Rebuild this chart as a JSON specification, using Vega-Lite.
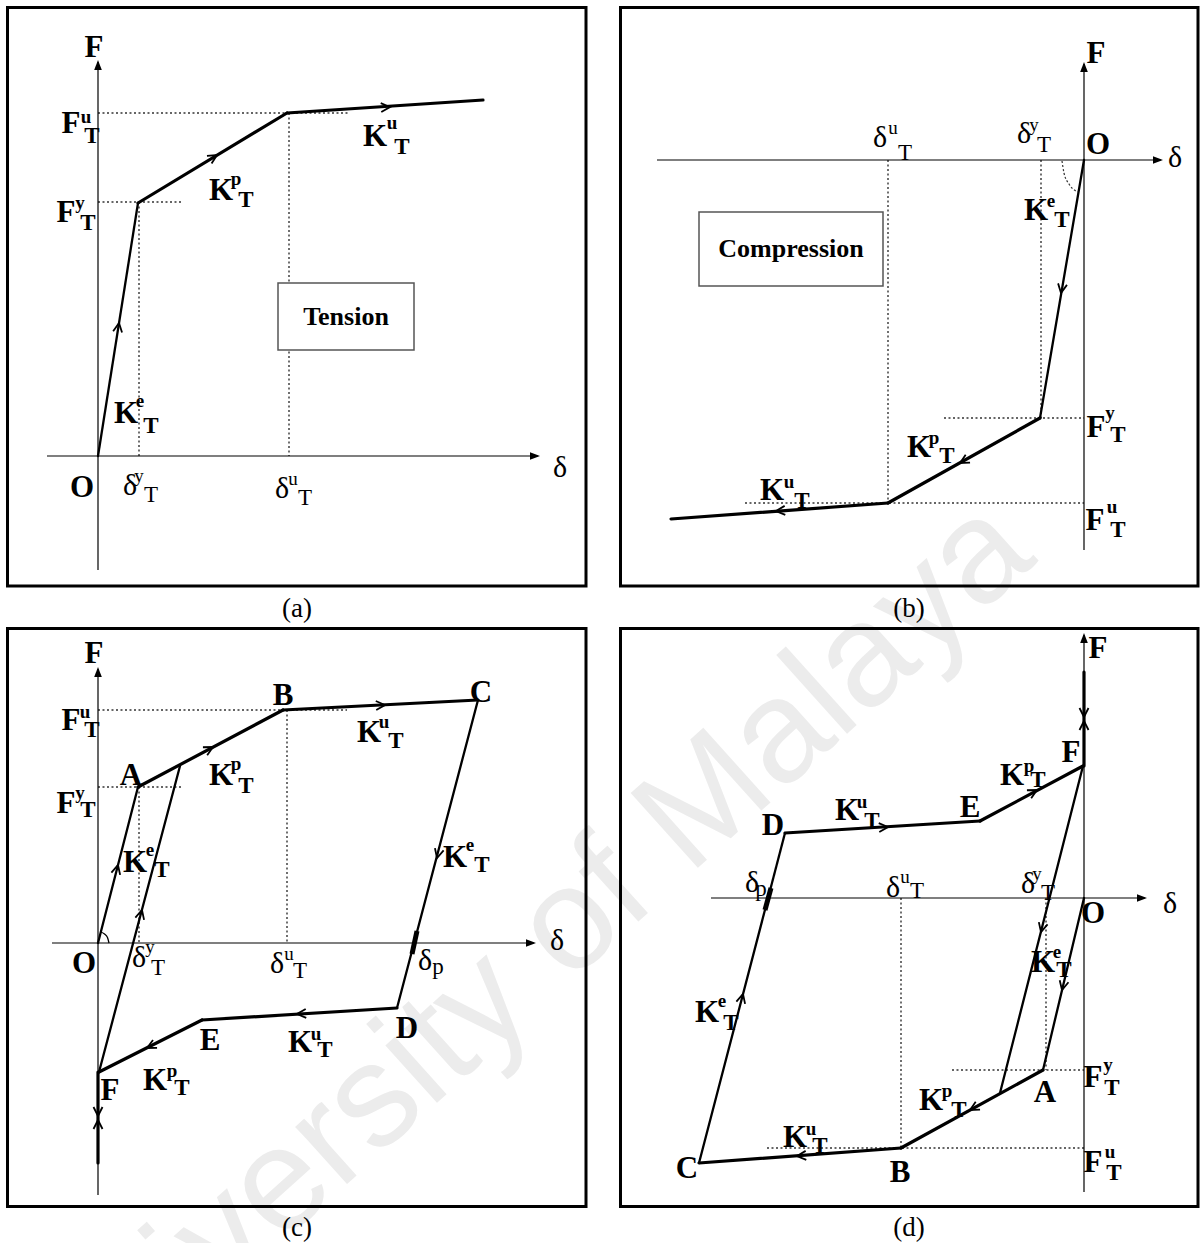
{
  "$schema": "https://vega.github.io/schema/vega-lite/v6.json",
  "width": 1203,
  "height": 1243,
  "autosize": {"type": "none"},
  "padding": 0,
  "background": "white",
  "config": {"view": {"stroke": null}, "text": {"font": "Liberation Serif"}},
  "encoding": {
    "x": {"field": "x", "type": "quantitative", "axis": null, "scale": {"domain": [0, 1203], "nice": false, "zero": false}},
    "y": {"field": "y", "type": "quantitative", "axis": null, "scale": {"domain": [0, 1243], "nice": false, "zero": false, "reverse": true}}
  },
  "datasets": {
    "watermark": [{"x": 521, "y": 968, "t": "University of Malaya"}],
    "frames": [
      {"panel": "a", "x": 7.5, "y": 7.5, "x2": 586, "y2": 586},
      {"panel": "b", "x": 620.5, "y": 7.5, "x2": 1198, "y2": 586},
      {"panel": "c", "x": 7.5, "y": 628.5, "x2": 586, "y2": 1206.5},
      {"panel": "d", "x": 620.5, "y": 628.5, "x2": 1198, "y2": 1206.5}
    ],
    "boxes": [
      {"panel": "a", "x": 278, "y": 283, "x2": 414, "y2": 350},
      {"panel": "b", "x": 699, "y": 212, "x2": 883, "y2": 286}
    ],
    "guides": [
      {"panel": "a", "x": 98, "y": 202, "x2": 183, "y2": 202},
      {"panel": "a", "x": 98, "y": 113, "x2": 350, "y2": 113},
      {"panel": "a", "x": 139, "y": 202, "x2": 139, "y2": 456},
      {"panel": "a", "x": 289, "y": 113, "x2": 289, "y2": 456},
      {"panel": "b", "x": 944, "y": 418, "x2": 1084, "y2": 418},
      {"panel": "b", "x": 745, "y": 503, "x2": 1084, "y2": 503},
      {"panel": "b", "x": 1041, "y": 160, "x2": 1041, "y2": 418},
      {"panel": "b", "x": 888, "y": 160, "x2": 888, "y2": 503},
      {"panel": "c", "x": 98, "y": 710, "x2": 347, "y2": 710},
      {"panel": "c", "x": 98, "y": 787, "x2": 182, "y2": 787},
      {"panel": "c", "x": 139, "y": 787, "x2": 139, "y2": 943},
      {"panel": "c", "x": 287, "y": 710, "x2": 287, "y2": 943},
      {"panel": "d", "x": 952, "y": 1070, "x2": 1084, "y2": 1070},
      {"panel": "d", "x": 767, "y": 1148, "x2": 1084, "y2": 1148},
      {"panel": "d", "x": 901, "y": 898, "x2": 901, "y2": 1148},
      {"panel": "d", "x": 1046, "y": 898, "x2": 1046, "y2": 1070}
    ],
    "axes": [
      {"panel": "a", "x": 98, "y": 62, "x2": 98, "y2": 570},
      {"panel": "a", "x": 47, "y": 456, "x2": 538, "y2": 456},
      {"panel": "b", "x": 657, "y": 160, "x2": 1161, "y2": 160},
      {"panel": "b", "x": 1084, "y": 64, "x2": 1084, "y2": 550},
      {"panel": "c", "x": 98, "y": 669, "x2": 98, "y2": 1195},
      {"panel": "c", "x": 52, "y": 943, "x2": 534, "y2": 943},
      {"panel": "d", "x": 1084, "y": 635, "x2": 1084, "y2": 1192},
      {"panel": "d", "x": 711, "y": 898, "x2": 1145, "y2": 898}
    ],
    "axisTips": [
      {"panel": "a", "x": 98, "y": 60, "heading": -90},
      {"panel": "a", "x": 540, "y": 456, "heading": 0},
      {"panel": "b", "x": 1084, "y": 62, "heading": -90},
      {"panel": "b", "x": 1163, "y": 160, "heading": 0},
      {"panel": "c", "x": 98, "y": 667, "heading": -90},
      {"panel": "c", "x": 536, "y": 943, "heading": 0},
      {"panel": "d", "x": 1084, "y": 633, "heading": -90},
      {"panel": "d", "x": 1147, "y": 898, "heading": 0}
    ],
    "branches": [
      {"panel": "a", "branch": "elastic", "x": 98, "y": 456, "x2": 138, "y2": 203},
      {"panel": "a", "branch": "plastic", "x": 138, "y": 203, "x2": 287, "y2": 113},
      {"panel": "a", "branch": "ultimate", "x": 287, "y": 113, "x2": 483, "y2": 100},
      {"panel": "b", "branch": "elastic", "x": 1084, "y": 160, "x2": 1040, "y2": 418},
      {"panel": "b", "branch": "plastic", "x": 1040, "y": 418, "x2": 888, "y2": 503},
      {"panel": "b", "branch": "ultimate", "x": 888, "y": 503, "x2": 671, "y2": 519},
      {"panel": "c", "branch": "elastic", "x": 98, "y": 943, "x2": 138, "y2": 787},
      {"panel": "c", "branch": "plastic", "x": 138, "y": 787, "x2": 283, "y2": 710},
      {"panel": "c", "branch": "ultimate", "x": 283, "y": 710, "x2": 478, "y2": 700},
      {"panel": "c", "branch": "elastic", "x": 478, "y": 700, "x2": 397, "y2": 1008},
      {"panel": "c", "branch": "ultimate", "x": 397, "y": 1008, "x2": 202, "y2": 1020},
      {"panel": "c", "branch": "plastic", "x": 202, "y": 1020, "x2": 99, "y2": 1072},
      {"panel": "c", "branch": "elastic", "x": 99, "y": 1072, "x2": 180, "y2": 766},
      {"panel": "c", "branch": "slack", "x": 98, "y": 1072, "x2": 98, "y2": 1163},
      {"panel": "d", "branch": "elastic", "x": 1084, "y": 898, "x2": 1043, "y2": 1070},
      {"panel": "d", "branch": "plastic", "x": 1043, "y": 1070, "x2": 901, "y2": 1148},
      {"panel": "d", "branch": "ultimate", "x": 901, "y": 1148, "x2": 699, "y2": 1163},
      {"panel": "d", "branch": "elastic", "x": 699, "y": 1163, "x2": 785, "y2": 833},
      {"panel": "d", "branch": "ultimate", "x": 785, "y": 833, "x2": 980, "y2": 821},
      {"panel": "d", "branch": "plastic", "x": 980, "y": 821, "x2": 1083, "y2": 766},
      {"panel": "d", "branch": "elastic", "x": 1083, "y": 766, "x2": 1000, "y2": 1093},
      {"panel": "d", "branch": "slack", "x": 1084, "y": 766, "x2": 1084, "y2": 672}
    ],
    "residual": [
      {"panel": "c", "x": 417, "y": 931, "x2": 412, "y2": 954},
      {"panel": "d", "x": 771, "y": 888, "x2": 765, "y2": 910}
    ],
    "arcs": [
      {"arc": "b", "i": 0, "x": 1062, "y": 161},
      {"arc": "b", "i": 1, "x": 1064, "y": 173},
      {"arc": "b", "i": 2, "x": 1069, "y": 184},
      {"arc": "b", "i": 3, "x": 1078, "y": 192},
      {"arc": "c", "i": 0, "x": 100.5, "y": 932},
      {"arc": "c", "i": 1, "x": 104.5, "y": 934},
      {"arc": "c", "i": 2, "x": 107.5, "y": 937.5},
      {"arc": "c", "i": 3, "x": 109, "y": 943}
    ],
    "flow": [
      {"panel": "a", "x": 119, "y": 323, "heading": -81},
      {"panel": "a", "x": 217, "y": 155, "heading": -31},
      {"panel": "a", "x": 390, "y": 107, "heading": -3.5},
      {"panel": "b", "x": 1061, "y": 293, "heading": 99.7},
      {"panel": "b", "x": 960, "y": 463, "heading": 150.8},
      {"panel": "b", "x": 776, "y": 511, "heading": 175.8},
      {"panel": "c", "x": 118, "y": 865, "heading": -75.6},
      {"panel": "c", "x": 142, "y": 910, "heading": -75.2},
      {"panel": "c", "x": 213, "y": 747, "heading": -28},
      {"panel": "c", "x": 385, "y": 705, "heading": -2.9},
      {"panel": "c", "x": 437, "y": 858, "heading": 104.7},
      {"panel": "c", "x": 297, "y": 1014, "heading": 176.5},
      {"panel": "c", "x": 147, "y": 1048, "heading": 153.2},
      {"panel": "c", "x": 98, "y": 1116, "heading": 90},
      {"panel": "c", "x": 98, "y": 1120, "heading": -90},
      {"panel": "d", "x": 1062, "y": 990, "heading": 103.4},
      {"panel": "d", "x": 1041, "y": 932, "heading": 104.2},
      {"panel": "d", "x": 970, "y": 1110, "heading": 151.2},
      {"panel": "d", "x": 797, "y": 1156, "heading": 175.8},
      {"panel": "d", "x": 743, "y": 994, "heading": -75.4},
      {"panel": "d", "x": 888, "y": 827, "heading": -3.5},
      {"panel": "d", "x": 1037, "y": 790, "heading": -28.1},
      {"panel": "d", "x": 1084, "y": 717, "heading": 90},
      {"panel": "d", "x": 1084, "y": 721, "heading": -90}
    ],
    "labels": [
      {"label": "F", "part": "main", "t": "F", "x": 94, "y": 57},
      {"label": "F^u_T", "part": "main", "t": "F", "x": 71, "y": 133},
      {"label": "F^u_T", "part": "sup", "t": "u", "x": 86, "y": 123},
      {"label": "F^u_T", "part": "sub", "t": "T", "x": 92, "y": 143},
      {"label": "F^y_T", "part": "main", "t": "F", "x": 66, "y": 222},
      {"label": "F^y_T", "part": "sup", "t": "y", "x": 80, "y": 209},
      {"label": "F^y_T", "part": "sub", "t": "T", "x": 88, "y": 230},
      {"label": "K^p_T", "part": "main", "t": "K", "x": 221, "y": 200},
      {"label": "K^p_T", "part": "sup", "t": "p", "x": 236, "y": 185},
      {"label": "K^p_T", "part": "sub", "t": "T", "x": 246, "y": 207},
      {"label": "K^u_T", "part": "main", "t": "K", "x": 375, "y": 146},
      {"label": "K^u_T", "part": "sup", "t": "u", "x": 392, "y": 129},
      {"label": "K^u_T", "part": "sub", "t": "T", "x": 402, "y": 154},
      {"label": "K^e_T", "part": "main", "t": "K", "x": 126, "y": 423},
      {"label": "K^e_T", "part": "sup", "t": "e", "x": 140, "y": 407},
      {"label": "K^e_T", "part": "sub", "t": "T", "x": 151, "y": 433},
      {"label": "O", "part": "main", "t": "O", "x": 82, "y": 497},
      {"label": "δ^y_T", "part": "main", "t": "δ", "x": 130, "y": 495},
      {"label": "δ^y_T", "part": "sup", "t": "y", "x": 139, "y": 482},
      {"label": "δ^y_T", "part": "sub", "t": "T", "x": 151, "y": 502},
      {"label": "δ^u_T", "part": "main", "t": "δ", "x": 282, "y": 498},
      {"label": "δ^u_T", "part": "sup", "t": "u", "x": 293, "y": 485},
      {"label": "δ^u_T", "part": "sub", "t": "T", "x": 305, "y": 505},
      {"label": "δ", "part": "main", "t": "δ", "x": 560, "y": 477},

      {"label": "F", "part": "main", "t": "F", "x": 1096, "y": 63},
      {"label": "O", "part": "main", "t": "O", "x": 1098, "y": 154},
      {"label": "δ", "part": "main", "t": "δ", "x": 1175, "y": 167},
      {"label": "δ^y_T", "part": "main", "t": "δ", "x": 1024, "y": 143},
      {"label": "δ^y_T", "part": "sup", "t": "y", "x": 1034, "y": 131},
      {"label": "δ^y_T", "part": "sub", "t": "T", "x": 1044, "y": 152},
      {"label": "δ^u_T", "part": "main", "t": "δ", "x": 880, "y": 147},
      {"label": "δ^u_T", "part": "sup", "t": "u", "x": 893, "y": 134},
      {"label": "δ^u_T", "part": "sub", "t": "T", "x": 905, "y": 160},
      {"label": "F^y_T", "part": "main", "t": "F", "x": 1096, "y": 437},
      {"label": "F^y_T", "part": "sup", "t": "y", "x": 1110, "y": 419},
      {"label": "F^y_T", "part": "sub", "t": "T", "x": 1118, "y": 442},
      {"label": "F^u_T", "part": "main", "t": "F", "x": 1095, "y": 530},
      {"label": "F^u_T", "part": "sup", "t": "u", "x": 1112, "y": 513},
      {"label": "F^u_T", "part": "sub", "t": "T", "x": 1118, "y": 537},
      {"label": "K^p_T", "part": "main", "t": "K", "x": 919, "y": 457},
      {"label": "K^p_T", "part": "sup", "t": "p", "x": 934, "y": 444},
      {"label": "K^p_T", "part": "sub", "t": "T", "x": 947, "y": 463},
      {"label": "K^u_T", "part": "main", "t": "K", "x": 772, "y": 500},
      {"label": "K^u_T", "part": "sup", "t": "u", "x": 789, "y": 488},
      {"label": "K^u_T", "part": "sub", "t": "T", "x": 802, "y": 508},
      {"label": "K^e_T", "part": "main", "t": "K", "x": 1036, "y": 220},
      {"label": "K^e_T", "part": "sup", "t": "e", "x": 1051, "y": 207},
      {"label": "K^e_T", "part": "sub", "t": "T", "x": 1062, "y": 227},

      {"label": "F", "part": "main", "t": "F", "x": 94, "y": 663},
      {"label": "F^u_T", "part": "main", "t": "F", "x": 71, "y": 730},
      {"label": "F^u_T", "part": "sup", "t": "u", "x": 85, "y": 718},
      {"label": "F^u_T", "part": "sub", "t": "T", "x": 92, "y": 737},
      {"label": "F^y_T", "part": "main", "t": "F", "x": 66, "y": 813},
      {"label": "F^y_T", "part": "sup", "t": "y", "x": 80, "y": 799},
      {"label": "F^y_T", "part": "sub", "t": "T", "x": 88, "y": 817},
      {"label": "A", "part": "main", "t": "A", "x": 131, "y": 785},
      {"label": "B", "part": "main", "t": "B", "x": 283, "y": 705},
      {"label": "C", "part": "main", "t": "C", "x": 481, "y": 702},
      {"label": "K^p_T", "part": "main", "t": "K", "x": 221, "y": 785},
      {"label": "K^p_T", "part": "sup", "t": "p", "x": 236, "y": 770},
      {"label": "K^p_T", "part": "sub", "t": "T", "x": 246, "y": 793},
      {"label": "K^e_T", "part": "main", "t": "K", "x": 135, "y": 872},
      {"label": "K^e_T", "part": "sup", "t": "e", "x": 150, "y": 856},
      {"label": "K^e_T", "part": "sub", "t": "T", "x": 162, "y": 877},
      {"label": "K^u_T", "part": "main", "t": "K", "x": 369, "y": 742},
      {"label": "K^u_T", "part": "sup", "t": "u", "x": 384, "y": 728},
      {"label": "K^u_T", "part": "sub", "t": "T", "x": 396, "y": 748},
      {"label": "K^e_T", "part": "main", "t": "K", "x": 455, "y": 867},
      {"label": "K^e_T", "part": "sup", "t": "e", "x": 470, "y": 851},
      {"label": "K^e_T", "part": "sub", "t": "T", "x": 482, "y": 872},
      {"label": "O", "part": "main", "t": "O", "x": 84, "y": 973},
      {"label": "δ^y_T", "part": "main", "t": "δ", "x": 139, "y": 967},
      {"label": "δ^y_T", "part": "sup", "t": "y", "x": 150, "y": 953},
      {"label": "δ^y_T", "part": "sub", "t": "T", "x": 158, "y": 975},
      {"label": "δ^u_T", "part": "main", "t": "δ", "x": 277, "y": 973},
      {"label": "δ^u_T", "part": "sup", "t": "u", "x": 289, "y": 960},
      {"label": "δ^u_T", "part": "sub", "t": "T", "x": 300, "y": 978},
      {"label": "δ_p", "part": "main", "t": "δ", "x": 425, "y": 970},
      {"label": "δ_p", "part": "sub", "t": "p", "x": 438, "y": 974},
      {"label": "D", "part": "main", "t": "D", "x": 407, "y": 1038},
      {"label": "E", "part": "main", "t": "E", "x": 210, "y": 1050},
      {"label": "K^u_T", "part": "main", "t": "K", "x": 300, "y": 1052},
      {"label": "K^u_T", "part": "sup", "t": "u", "x": 316, "y": 1040},
      {"label": "K^u_T", "part": "sub", "t": "T", "x": 325, "y": 1057},
      {"label": "F", "part": "main", "t": "F", "x": 110, "y": 1100},
      {"label": "K^p_T", "part": "main", "t": "K", "x": 155, "y": 1090},
      {"label": "K^p_T", "part": "sup", "t": "p", "x": 172, "y": 1077},
      {"label": "K^p_T", "part": "sub", "t": "T", "x": 182, "y": 1095},
      {"label": "δ", "part": "main", "t": "δ", "x": 557, "y": 950},

      {"label": "F", "part": "main", "t": "F", "x": 1098, "y": 658},
      {"label": "D", "part": "main", "t": "D", "x": 773, "y": 835},
      {"label": "K^u_T", "part": "main", "t": "K", "x": 847, "y": 820},
      {"label": "K^u_T", "part": "sup", "t": "u", "x": 862, "y": 808},
      {"label": "K^u_T", "part": "sub", "t": "T", "x": 872, "y": 828},
      {"label": "E", "part": "main", "t": "E", "x": 970, "y": 817},
      {"label": "K^p_T", "part": "main", "t": "K", "x": 1012, "y": 785},
      {"label": "K^p_T", "part": "sup", "t": "p", "x": 1029, "y": 772},
      {"label": "K^p_T", "part": "sub", "t": "T", "x": 1038, "y": 787},
      {"label": "F", "part": "main", "t": "F", "x": 1071, "y": 762},
      {"label": "δ_p", "part": "main", "t": "δ", "x": 752, "y": 892},
      {"label": "δ_p", "part": "sub", "t": "p", "x": 761, "y": 896},
      {"label": "δ^u_T", "part": "main", "t": "δ", "x": 893, "y": 897},
      {"label": "δ^u_T", "part": "sup", "t": "u", "x": 905, "y": 883},
      {"label": "δ^u_T", "part": "sub", "t": "T", "x": 917, "y": 898},
      {"label": "δ^y_T", "part": "main", "t": "δ", "x": 1028, "y": 893},
      {"label": "δ^y_T", "part": "sup", "t": "y", "x": 1037, "y": 880},
      {"label": "δ^y_T", "part": "sub", "t": "T", "x": 1048, "y": 900},
      {"label": "O", "part": "main", "t": "O", "x": 1093, "y": 923},
      {"label": "δ", "part": "main", "t": "δ", "x": 1170, "y": 913},
      {"label": "K^e_T", "part": "main", "t": "K", "x": 1043, "y": 972},
      {"label": "K^e_T", "part": "sup", "t": "e", "x": 1057, "y": 958},
      {"label": "K^e_T", "part": "sub", "t": "T", "x": 1064, "y": 977},
      {"label": "K^e_T", "part": "main", "t": "K", "x": 707, "y": 1022},
      {"label": "K^e_T", "part": "sup", "t": "e", "x": 722, "y": 1007},
      {"label": "K^e_T", "part": "sub", "t": "T", "x": 731, "y": 1030},
      {"label": "F^y_T", "part": "main", "t": "F", "x": 1093, "y": 1087},
      {"label": "F^y_T", "part": "sup", "t": "y", "x": 1108, "y": 1071},
      {"label": "F^y_T", "part": "sub", "t": "T", "x": 1112, "y": 1095},
      {"label": "A", "part": "main", "t": "A", "x": 1045, "y": 1102},
      {"label": "K^p_T", "part": "main", "t": "K", "x": 931, "y": 1110},
      {"label": "K^p_T", "part": "sup", "t": "p", "x": 947, "y": 1097},
      {"label": "K^p_T", "part": "sub", "t": "T", "x": 959, "y": 1117},
      {"label": "K^u_T", "part": "main", "t": "K", "x": 795, "y": 1147},
      {"label": "K^u_T", "part": "sup", "t": "u", "x": 811, "y": 1135},
      {"label": "K^u_T", "part": "sub", "t": "T", "x": 820, "y": 1153},
      {"label": "B", "part": "main", "t": "B", "x": 900, "y": 1182},
      {"label": "F^u_T", "part": "main", "t": "F", "x": 1093, "y": 1172},
      {"label": "F^u_T", "part": "sup", "t": "u", "x": 1110, "y": 1158},
      {"label": "F^u_T", "part": "sub", "t": "T", "x": 1114, "y": 1180},
      {"label": "C", "part": "main", "t": "C", "x": 687, "y": 1178},

      {"label": "box", "part": "box", "t": "Tension", "x": 346, "y": 317},
      {"label": "box", "part": "box", "t": "Compression", "x": 791, "y": 249},
      {"label": "cap", "part": "cap", "t": "(a)", "x": 297, "y": 609},
      {"label": "cap", "part": "cap", "t": "(b)", "x": 909, "y": 609},
      {"label": "cap", "part": "cap", "t": "(c)", "x": 297, "y": 1228},
      {"label": "cap", "part": "cap", "t": "(d)", "x": 909, "y": 1228}
    ]
  },
  "layer": [
    {
      "data": {"name": "watermark"},
      "mark": {"type": "text", "font": "Liberation Sans", "fontSize": 146, "angle": -42, "align": "center", "baseline": "middle", "color": "#ececec"},
      "encoding": {"text": {"field": "t"}}
    },
    {
      "data": {"name": "frames"},
      "mark": {"type": "rect", "fillOpacity": 0, "stroke": "black", "strokeWidth": 3},
      "encoding": {"x2": {"field": "x2"}, "y2": {"field": "y2"}}
    },
    {
      "data": {"name": "guides"},
      "mark": {"type": "rule", "color": "#333333", "strokeWidth": 1.4, "strokeDash": [2, 2.5]},
      "encoding": {"x2": {"field": "x2"}, "y2": {"field": "y2"}}
    },
    {
      "data": {"name": "boxes"},
      "mark": {"type": "rect", "fill": "white", "stroke": "#555555", "strokeWidth": 1.5},
      "encoding": {"x2": {"field": "x2"}, "y2": {"field": "y2"}}
    },
    {
      "data": {"name": "axes"},
      "mark": {"type": "rule", "color": "black", "strokeWidth": 1.2},
      "encoding": {"x2": {"field": "x2"}, "y2": {"field": "y2"}}
    },
    {
      "data": {"name": "axisTips"},
      "mark": {"type": "point", "shape": "M0,0L-1,-0.38L-1,0.38Z", "filled": true, "color": "black", "size": 400, "opacity": 1},
      "encoding": {"angle": {"field": "heading", "type": "quantitative", "scale": null}}
    },
    {
      "data": {"name": "branches"},
      "transform": [{"filter": "datum.branch === 'elastic'"}],
      "mark": {"type": "rule", "color": "black", "strokeWidth": 2.3, "strokeCap": "round"},
      "encoding": {"x2": {"field": "x2"}, "y2": {"field": "y2"}}
    },
    {
      "data": {"name": "branches"},
      "transform": [{"filter": "datum.branch !== 'elastic'"}],
      "mark": {"type": "rule", "color": "black", "strokeWidth": 3.2, "strokeCap": "round"},
      "encoding": {"x2": {"field": "x2"}, "y2": {"field": "y2"}}
    },
    {
      "data": {"name": "residual"},
      "mark": {"type": "rule", "color": "black", "strokeWidth": 5},
      "encoding": {"x2": {"field": "x2"}, "y2": {"field": "y2"}}
    },
    {
      "data": {"name": "arcs"},
      "transform": [{"filter": "datum.arc === 'b'"}],
      "mark": {"type": "line", "color": "#333333", "strokeWidth": 1.2, "strokeDash": [2, 2], "interpolate": "monotone"},
      "encoding": {"order": {"field": "i"}, "detail": {"field": "arc"}}
    },
    {
      "data": {"name": "arcs"},
      "transform": [{"filter": "datum.arc === 'c'"}],
      "mark": {"type": "line", "color": "black", "strokeWidth": 1.3, "interpolate": "monotone"},
      "encoding": {"order": {"field": "i"}, "detail": {"field": "arc"}}
    },
    {
      "data": {"name": "flow"},
      "mark": {"type": "point", "shape": "M-1,-0.5L0,0L-1,0.5", "filled": false, "color": "black", "strokeWidth": 1.8, "size": 324, "opacity": 1},
      "encoding": {"angle": {"field": "heading", "type": "quantitative", "scale": null}}
    },
    {
      "data": {"name": "labels"},
      "transform": [{"filter": "datum.part === 'main' && datum.label[0] !== 'δ'"}],
      "mark": {"type": "text", "fontSize": 31, "fontWeight": "bold", "align": "center", "baseline": "alphabetic", "color": "black"},
      "encoding": {"text": {"field": "t"}}
    },
    {
      "data": {"name": "labels"},
      "transform": [{"filter": "datum.part === 'main' && datum.label[0] === 'δ'"}],
      "mark": {"type": "text", "fontSize": 30, "align": "center", "baseline": "alphabetic", "color": "black"},
      "encoding": {"text": {"field": "t"}}
    },
    {
      "data": {"name": "labels"},
      "transform": [{"filter": "datum.part === 'sup' && datum.label[0] !== 'δ'"}],
      "mark": {"type": "text", "fontSize": 19, "fontWeight": "bold", "align": "center", "baseline": "alphabetic", "color": "black"},
      "encoding": {"text": {"field": "t"}}
    },
    {
      "data": {"name": "labels"},
      "transform": [{"filter": "datum.part === 'sup' && datum.label[0] === 'δ'"}],
      "mark": {"type": "text", "fontSize": 19, "align": "center", "baseline": "alphabetic", "color": "black"},
      "encoding": {"text": {"field": "t"}}
    },
    {
      "data": {"name": "labels"},
      "transform": [{"filter": "datum.part === 'sub' && datum.label[0] !== 'δ'"}],
      "mark": {"type": "text", "fontSize": 23, "fontWeight": "bold", "align": "center", "baseline": "alphabetic", "color": "black"},
      "encoding": {"text": {"field": "t"}}
    },
    {
      "data": {"name": "labels"},
      "transform": [{"filter": "datum.part === 'sub' && datum.label[0] === 'δ'"}],
      "mark": {"type": "text", "fontSize": 23, "align": "center", "baseline": "alphabetic", "color": "black"},
      "encoding": {"text": {"field": "t"}}
    },
    {
      "data": {"name": "labels"},
      "transform": [{"filter": "datum.part === 'box'"}],
      "mark": {"type": "text", "fontSize": 26, "fontWeight": "bold", "align": "center", "baseline": "middle", "color": "black"},
      "encoding": {"text": {"field": "t"}}
    },
    {
      "data": {"name": "labels"},
      "transform": [{"filter": "datum.part === 'cap'"}],
      "mark": {"type": "text", "fontSize": 27, "align": "center", "baseline": "middle", "color": "black"},
      "encoding": {"text": {"field": "t"}}
    }
  ]
}
